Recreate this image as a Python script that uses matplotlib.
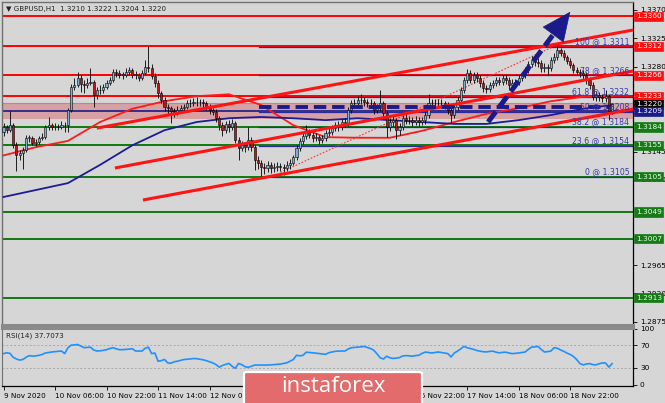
import matplotlib
matplotlib.use('Agg')
import matplotlib.pyplot as plt
from matplotlib.patches import FancyBboxPatch
import numpy as np

# ---------------- data ----------------
first_open = 1.3176
closes = [
 1.3184,1.3179,1.3187,1.3155,1.3140,1.3143,1.3148,1.3167,1.3167,1.3159,
 1.3160,1.3167,1.3168,1.3184,1.3187,1.3184,1.3184,1.3184,1.3187,1.3187,
 1.3211,1.3248,1.3251,1.3262,1.3252,1.3251,1.3254,1.3256,1.3235,1.3243,
 1.3243,1.3248,1.3254,1.3259,1.3271,1.3270,1.3267,1.3267,1.3271,1.3275,
 1.3267,1.3267,1.3262,1.3270,1.3279,1.3278,1.3265,1.3254,1.3238,1.3227,
 1.3216,1.3214,1.3209,1.3208,1.3211,1.3214,1.3216,1.3222,1.3222,1.3224,
 1.3224,1.3224,1.3222,1.3216,1.3211,1.3208,1.3198,1.3187,1.3179,1.3189,
 1.3184,1.3190,1.3163,1.3151,1.3155,1.3152,1.3163,1.3152,1.3132,1.3127,
 1.3121,1.3119,1.3124,1.3119,1.3121,1.3122,1.3121,1.3119,1.3124,1.3127,
 1.3136,1.3151,1.3162,1.3170,1.3176,1.3171,1.3167,1.3168,1.3163,1.3167,
 1.3175,1.3176,1.3182,1.3187,1.3184,1.3192,1.3190,1.3211,1.3222,1.3222,
 1.3227,1.3227,1.3224,1.3222,1.3222,1.3211,1.3214,1.3222,1.3206,1.3184,
 1.3192,1.3195,1.3179,1.3184,1.3198,1.3195,1.3195,1.3192,1.3195,1.3192,
 1.3195,1.3203,1.3222,1.3222,1.3222,1.3222,1.3222,1.3219,1.3211,1.3203,
 1.3216,1.3227,1.3243,1.3259,1.3270,1.3259,1.3267,1.3262,1.3254,1.3246,
 1.3244,1.3251,1.3254,1.3259,1.3256,1.3262,1.3259,1.3251,1.3254,1.3256,
 1.3262,1.3267,1.3275,1.3284,1.3290,1.3287,1.3286,1.3278,1.3279,1.3278,
 1.3290,1.3295,1.3306,1.3302,1.3295,1.3289,1.3282,1.3275,1.3271,1.3270,
 1.3267,1.3259,1.3251,1.3232,1.3235,1.3232,1.3230,1.3233,1.3210,1.3220]
highs = [
 1.3190,1.3188,1.3210,1.3190,1.3160,1.3148,1.3152,1.3171,1.3172,1.3170,
 1.3165,1.3170,1.3174,1.3188,1.3200,1.3191,1.3190,1.3189,1.3193,1.3192,
 1.3215,1.3252,1.3262,1.3272,1.3266,1.3258,1.3262,1.3278,1.3259,1.3248,
 1.3250,1.3253,1.3259,1.3264,1.3276,1.3276,1.3274,1.3272,1.3277,1.3280,
 1.3278,1.3273,1.3270,1.3275,1.3290,1.3313,1.3284,1.3270,1.3258,1.3242,
 1.3231,1.3221,1.3218,1.3215,1.3217,1.3219,1.3221,1.3227,1.3229,1.3230,
 1.3232,1.3229,1.3228,1.3226,1.3220,1.3215,1.3212,1.3202,1.3192,1.3194,
 1.3195,1.3196,1.3193,1.3168,1.3162,1.3160,1.3184,1.3168,1.3156,1.3138,
 1.3131,1.3127,1.3130,1.3128,1.3127,1.3128,1.3127,1.3125,1.3130,1.3133,
 1.3140,1.3155,1.3166,1.3175,1.3187,1.3181,1.3176,1.3174,1.3172,1.3172,
 1.3180,1.3182,1.3187,1.3192,1.3193,1.3197,1.3198,1.3216,1.3227,1.3229,
 1.3233,1.3236,1.3231,1.3229,1.3228,1.3226,1.3220,1.3243,1.3226,1.3210,
 1.3198,1.3202,1.3199,1.3190,1.3203,1.3204,1.3201,1.3200,1.3201,1.3200,
 1.3200,1.3208,1.3237,1.3229,1.3228,1.3228,1.3229,1.3226,1.3224,1.3215,
 1.3221,1.3232,1.3248,1.3264,1.3276,1.3275,1.3272,1.3271,1.3266,1.3258,
 1.3251,1.3256,1.3259,1.3264,1.3264,1.3267,1.3266,1.3263,1.3260,1.3261,
 1.3267,1.3272,1.3280,1.3289,1.3296,1.3295,1.3293,1.3290,1.3285,1.3284,
 1.3295,1.3301,1.3314,1.3310,1.3306,1.3299,1.3293,1.3286,1.3280,1.3276,
 1.3274,1.3271,1.3263,1.3255,1.3241,1.3239,1.3237,1.3243,1.3236,1.3222]
lows = [
 1.3170,1.3174,1.3176,1.3150,1.3115,1.3132,1.3117,1.3144,1.3160,1.3155,
 1.3154,1.3157,1.3163,1.3165,1.3180,1.3180,1.3179,1.3180,1.3181,1.3176,
 1.3176,1.3208,1.3243,1.3247,1.3240,1.3238,1.3246,1.3250,1.3216,1.3228,
 1.3236,1.3238,1.3244,1.3250,1.3255,1.3264,1.3262,1.3261,1.3263,1.3267,
 1.3262,1.3261,1.3257,1.3258,1.3266,1.3272,1.3260,1.3248,1.3230,1.3222,
 1.3210,1.3205,1.3190,1.3200,1.3203,1.3206,1.3209,1.3212,1.3216,1.3217,
 1.3218,1.3218,1.3216,1.3211,1.3205,1.3203,1.3192,1.3180,1.3170,1.3175,
 1.3176,1.3180,1.3158,1.3132,1.3146,1.3145,1.3148,1.3146,1.3116,1.3118,
 1.3105,1.3110,1.3113,1.3111,1.3113,1.3114,1.3115,1.3108,1.3114,1.3117,
 1.3123,1.3132,1.3146,1.3157,1.3165,1.3166,1.3160,1.3162,1.3157,1.3158,
 1.3162,1.3170,1.3172,1.3177,1.3178,1.3180,1.3184,1.3185,1.3206,1.3216,
 1.3217,1.3220,1.3218,1.3216,1.3215,1.3205,1.3206,1.3209,1.3200,1.3168,
 1.3177,1.3186,1.3165,1.3172,1.3180,1.3189,1.3189,1.3186,1.3187,1.3186,
 1.3187,1.3189,1.3198,1.3215,1.3216,1.3216,1.3215,1.3213,1.3205,1.3192,
 1.3198,1.3211,1.3222,1.3238,1.3254,1.3254,1.3254,1.3256,1.3248,1.3240,
 1.3238,1.3239,1.3246,1.3249,1.3250,1.3251,1.3253,1.3245,1.3246,1.3249,
 1.3251,1.3257,1.3262,1.3270,1.3279,1.3281,1.3280,1.3272,1.3272,1.3266,
 1.3273,1.3285,1.3290,1.3296,1.3290,1.3284,1.3277,1.3270,1.3266,1.3264,
 1.3261,1.3253,1.3245,1.3227,1.3226,1.3225,1.3223,1.3224,1.3195,1.3204]
rsi = [
 55.5,57,56,49,46,44,45,49,52,51,51.5,52.5,54,56.6,57.5,58.4,59,59.5,60.1,55.5,
 66,70.5,71,71.7,69,66,66.5,67,62,60.1,60.5,61.3,62.5,64.5,66,64,62.5,62.5,63,63.5,
 64.2,60.1,60.1,60.1,65,67,55.5,56.6,42,43,45.1,39,38.5,41,42,43.5,45,45.5,46,46.9,
 46.5,45.5,44.5,43,41,39,36,31.5,34.5,36.5,38.1,33,29.4,38,36,32.3,31.2,33,35.2,35.2,
 35.2,35.2,35.2,35.5,36,36.5,37,38,39.2,42,45,52.6,51.5,52.5,58,57.5,57,56.3,55.5,54.8,
 54.3,57,58.4,59.5,60.1,60.1,60.1,63.5,66,66.5,67,67.5,68.3,66.5,64.5,61.5,55,48,46,50.9,
 48,47,47.5,48.5,51.5,52,51.5,51,52,52.6,56,58.2,57.5,56.6,57.5,58.4,57.5,56.5,55.5,49.6,
 56.6,60,64,68.3,66,64.5,63,61,59.8,58.8,58.5,59.5,59.8,58,56.8,57.8,58,56.5,55.5,56,
 56.6,57.5,58.4,63,67,67.5,68.3,63,58.4,59,60.1,66,65,62,59.5,56.5,54,50.5,45,38,
 35.5,37,37.8,36,35.5,37.5,39,38.8,31.5,37.7073]

# moving averages, sampled every 10 bars
ma_bars = [0,10,20,30,40,50,60,70,80,90,100,110,120,130,140,150,160,170,180,189]
ma_red = [1.3139,1.3152,1.3162,1.3192,1.3213,1.3225,1.3233,1.3236,1.3219,1.3187,
          1.3168,1.3167,1.3167,1.3178,1.3192,1.3205,1.3214,1.3225,1.3232,1.3233]
ma_blue = [1.3073,1.3084,1.3095,1.3124,1.3155,1.3179,1.3192,1.3198,1.3200,1.3198,
           1.3195,1.3198,1.3195,1.3192,1.3189,1.3189,1.3195,1.3203,1.3213,1.3219]

red_levels = [1.3360, 1.3312, 1.3266, 1.3233]
green_levels = [1.3184, 1.3155, 1.3105, 1.3049, 1.3007, 1.2913]
navy_level = 1.3209
zone = (1.3196, 1.3222)
current_price = 1.3220
fib_names = ['100', '78', '61.8', '50', '38.2', '23.6', '0']
fib_values = [1.3311, 1.3266, 1.3232, 1.3208, 1.3184, 1.3154, 1.3105]
fib_start = 79.5
# trend lines: (bar, price) pairs
channel_lines = [((29.0, 1.31824), (195.5, 1.33380)),
                 ((34.6, 1.31190), (195.5, 1.32730)),
                 ((43.3, 1.30682), (195.5, 1.32125))]
fib_diag = ((86.0, 1.3112), (170.5, 1.3311))
dash_level = 1.3216
dash_span = (79.5, 188.5)
arrow_start = (150.5, 1.3192)
arrow_end = (176.0, 1.3367)

time_labels = ['9 Nov 2020', '10 Nov 06:00', '10 Nov 22:00', '11 Nov 14:00', '12 Nov 06:00',
               '12 Nov 22:00', '13 Nov 14:00', '16 Nov 06:00', '16 Nov 22:00', '17 Nov 14:00',
               '18 Nov 06:00', '18 Nov 22:00']
hidden_time_labels = ['12 Nov 22:00', '13 Nov 14:00', '16 Nov 06:00']  # under the logo
price_ticks = [1.2875, 1.2920, 1.2965, 1.3100, 1.3145, 1.3280, 1.3325, 1.3370]
navy = '#1a1a8a'

# ---------------- figure ----------------
BG = '#d6d6d6'
W, H = 665, 403
fig = plt.figure(figsize=(W / 100, H / 100), dpi=100, facecolor=BG)
plt.rcParams['font.family'] = ['DejaVu Sans']

def fx(px): return px / W
def fy(py): return 1 - py / H

ax = fig.add_axes([fx(2), fy(325), fx(633) - fx(2), fy(2) - fy(325)], facecolor=BG)
rx = fig.add_axes([fx(2), fy(386), fx(633) - fx(2), fy(328) - fy(386)], facecolor=BG)

n = len(closes)
idx = np.arange(n)
c = np.array(closes)
o = np.array([first_open] + closes[:-1])
hi = np.array(highs)
lo = np.array(lows)

xmin, xmax = -0.47, 195.5
ax.set_xlim(xmin, xmax)
ax.set_ylim(1.28698, 1.33825)

# zone band
ax.axhspan(zone[0], zone[1], color='#d89c9f', alpha=0.9, zorder=1, lw=0)
ax.axhline(zone[1], color='#b08c8c', lw=0.8, zorder=1)

# horizontal levels
for lv in red_levels:
    ax.axhline(lv, color='#ff0000', lw=1.4, zorder=2)
for lv in green_levels:
    ax.axhline(lv, color='#107a10', lw=1.4, zorder=2)
ax.axhline(navy_level, color=navy, lw=1.2, zorder=2)

# fib lines
for name, v in zip(fib_names, fib_values):
    ax.plot([fib_start, xmax], [v, v], color='#2a2a9a', lw=0.9, zorder=2.5)
    ax.text(194.3, v + 0.00008, f'{name} @ {v:.4f}', color='#3838a8', fontsize=5.6,
            ha='right', va='bottom', zorder=8)

# moving averages
ax.plot(ma_bars, ma_red, color='#ff1a1a', lw=1.3, zorder=3)
ax.plot(ma_bars, ma_blue, color='#1c1c96', lw=1.3, zorder=3)

# fib diagonal dotted
ax.plot([fib_diag[0][0], fib_diag[1][0]], [fib_diag[0][1], fib_diag[1][1]],
        color='#ff3030', lw=0.8, ls=(0, (1.5, 1.5)), zorder=3)

# candles
ax.vlines(idx, lo, hi, color='black', lw=0.6, zorder=4)
bottoms = np.minimum(o, c)
heights = np.maximum(np.abs(c - o), 0.00005)
cols = np.where(c >= o, '#7fb0cf', '#c0141e')
ax.bar(idx, heights, bottom=bottoms, width=0.66, color=cols, edgecolor='black',
       linewidth=0.4, zorder=5)

# channel lines
for (p0, p1) in channel_lines:
    ax.plot([p0[0], p1[0]], [p0[1], p1[1]], color='#ff1414', lw=2.2, zorder=6,
            solid_capstyle='butt')

# dashed horizontal
ax.plot(dash_span, [dash_level, dash_level], color=navy, lw=2.8,
        dashes=(3.2, 1.5), zorder=7)

# big dashed arrow: dashed shaft + solid head
frac = 0.82
base = (arrow_start[0] + frac * (arrow_end[0] - arrow_start[0]),
        arrow_start[1] + frac * (arrow_end[1] - arrow_start[1]))
ax.plot([arrow_start[0], base[0]], [arrow_start[1], base[1]], color=navy, lw=3.6,
        dashes=(2.6, 1.2), zorder=7, solid_capstyle='butt')
ax.annotate('', xy=arrow_end, xytext=base,
            arrowprops=dict(arrowstyle='-|>,head_length=1.1,head_width=0.5',
                            mutation_scale=18, fc=navy, ec=navy, lw=0.5,
                            shrinkA=0, shrinkB=0),
            zorder=7)

# axes styling main
ax.set_xticks([])
ax.yaxis.tick_right()
ax.set_yticks(price_ticks)
ax.set_yticklabels([f'{t:.4f}' for t in price_ticks])
ax.tick_params(axis='y', labelsize=5.3, length=3, width=0.6, pad=2, colors='black')
for s in ['left', 'top']:
    ax.spines[s].set_color('#707070')
    ax.spines[s].set_linewidth(1.0)
ax.spines['right'].set_color('black')
ax.spines['right'].set_linewidth(0.9)
ax.spines['bottom'].set_color('#8a8a8a')
ax.spines['bottom'].set_linewidth(2.2)

# right price boxes
def price_box(v, fc, tc='white'):
    ax.text(1.0045, v, f'{v:.4f}', transform=ax.get_yaxis_transform(), fontsize=5.3,
            color=tc, ha='left', va='center', zorder=10, clip_on=False,
            bbox=dict(boxstyle='square,pad=0.22', fc=fc, ec=fc, lw=0.5))

for lv in red_levels:
    price_box(lv, '#ff1010')
for lv in green_levels:
    price_box(lv, '#167a16', '#e8ffe8')
price_box(current_price, 'black')
price_box(navy_level, navy)

# title
ax.text(0.006, 0.988, '\u25BC GBPUSD,H1  1.3210 1.3222 1.3204 1.3220', transform=ax.transAxes,
        fontsize=5.1, color='#202020', ha='left', va='top', zorder=10)

# ---------------- RSI ----------------
rx.set_xlim(xmin, xmax)
rx.set_ylim(-2, 101)
for lv in (30, 70):
    rx.axhline(lv, color='#a8a8a8', lw=0.7, ls=(0, (2, 2)), zorder=1)
rx.plot(idx, rsi, color='#2090ff', lw=1.2, zorder=3)
rx.yaxis.tick_right()
rx.set_yticks([0, 30, 70, 100])
rx.set_yticklabels(['0', '30', '70', '100'])
rx.tick_params(axis='y', labelsize=5.3, length=3, width=0.6, pad=2)
rx.set_xticks(np.arange(0, 16 * len(time_labels), 16))
rx.set_xticklabels(['' if t in hidden_time_labels else t for t in time_labels])
rx.tick_params(axis='x', labelsize=5.2, length=3, width=0.6, pad=2)
for lab in rx.get_xticklabels():
    lab.set_ha('left')
rx.text(0.006, 0.93, 'RSI(14) 37.7073', transform=rx.transAxes, fontsize=5.1,
        color='#202020', ha='left', va='top')
rx.spines['top'].set_color('#8a8a8a')
rx.spines['top'].set_linewidth(2.2)
rx.spines['left'].set_color('#707070')
rx.spines['right'].set_color('black')
rx.spines['bottom'].set_color('black')
for s in ['right', 'bottom']:
    rx.spines[s].set_linewidth(0.9)

# ---------------- logo ----------------
logo = FancyBboxPatch((fx(244), fy(408)), fx(422) - fx(244), fy(372) - fy(408),
                      boxstyle='round,pad=0,rounding_size=0.004', transform=fig.transFigure,
                      fc='#e36b6b', ec='white', lw=1.6, zorder=20)
fig.patches.append(logo)
fig.text(fx(333), fy(387), 'instaforex', fontsize=16, color='white', ha='center',
         va='center', family='Open Sans', zorder=21)

fig.savefig('out.png', dpi=100, facecolor=BG)
